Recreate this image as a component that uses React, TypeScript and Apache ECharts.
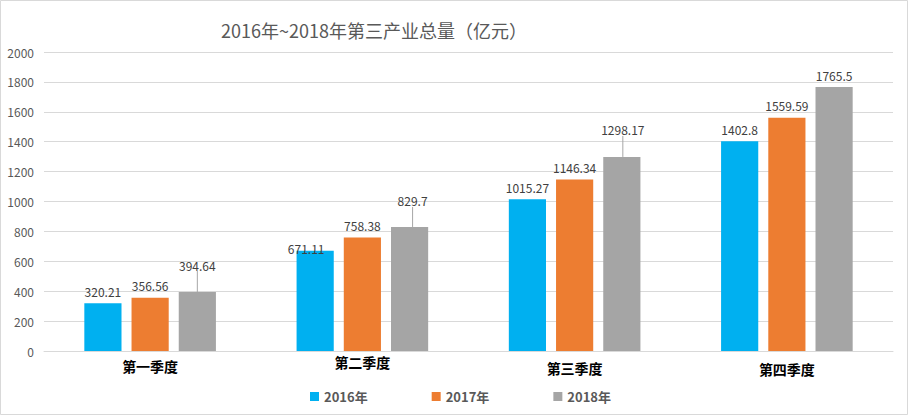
import React, { useEffect, useRef } from "react";
import * as echarts from "echarts";

const categories = ["第一季度", "第二季度", "第三季度", "第四季度"];
const seriesNames = ["2016年", "2017年", "2018年"];
const values2016 = [320.21, 671.11, 1015.27, 1402.8];
const values2017 = [356.56, 758.38, 1146.34, 1559.59];
const values2018 = [394.64, 829.7, 1298.17, 1765.5];
const colors = ["#00b0f0", "#ed7d31", "#a5a5a5"];
const catPad = [[4, 0, 0, 0], [0, 0, 0, 0], [6, 0, 0, 0], [7, 0, 0, 0]];

const FONT = "'Noto Sans CJK SC', 'Microsoft YaHei', sans-serif";

export default function App() {
  const ref = useRef<HTMLDivElement>(null);
  useEffect(() => {
    const chart = echarts.init(ref.current!, null, { renderer: "svg" });
    const allValues = [values2016, values2017, values2018];
    // label adjustments: "seriesIndex-dataIndex" => [dx, dy, showLine]
    const moves: Record<string, [number, number, boolean]> = {
      "2-0": [0, -15, true],
      "0-1": [-9, 10, false],
      "2-1": [3, -14, true],
      "2-2": [1, -15, true],
    };
    chart.setOption({
      animation: false,
      textStyle: { fontFamily: FONT },
      title: {
        text: "2016年~2018年第三产业总量（亿元）",
        left: 216,
        top: 16,
        textStyle: { fontSize: 18, fontWeight: "normal", color: "#595959", fontFamily: FONT },
      },
      graphic: [
        {
          type: "rect",
          shape: { x: 0.5, y: 0.5, width: 907, height: 414 },
          style: { fill: "none", stroke: "#d9d9d9", lineWidth: 1 },
          silent: true,
        },
      ],
      legend: {
        data: seriesNames,
        left: 305,
        top: 385,
        itemWidth: 9,
        itemHeight: 9,
        itemGap: 64,
        icon: "rect",
        textStyle: { fontSize: 13, fontWeight: "bold", color: "#595959", fontFamily: FONT },
      },
      grid: { left: 44, right: 16, top: 52, bottom: 65 },
      xAxis: {
        type: "category",
        data: categories.map((c, i) => ({
          value: c,
          textStyle: { padding: catPad[i] },
        })),
        axisLine: { lineStyle: { color: "#d9d9d9" } },
        axisTick: { show: false },
        axisLabel: { fontSize: 14, fontWeight: "bold", color: "#000", margin: 4 },
      },
      yAxis: {
        type: "value",
        min: 0,
        max: 2000,
        interval: 200,
        axisLine: { show: false },
        axisTick: { show: false },
        splitLine: { lineStyle: { color: "#d9d9d9" } },
        axisLabel: {
          fontSize: 12,
          color: "#595959",
          margin: 10,
          formatter: (v: number) => String(v),
        },
      },
      series: seriesNames.map((name, si) => ({
        type: "bar",
        name,
        data: allValues[si].map((v, di) => {
          const m = moves[`${si}-${di}`];
          return m && m[2]
            ? { value: v, labelLine: { show: true, lineStyle: { color: "#a6a6a6", width: 1 } } }
            : { value: v };
        }),
        barGap: "27%",
        barCategoryGap: "38%",
        itemStyle: { color: colors[si] },
        label: {
          show: true,
          position: "top",
          distance: 6,
          fontSize: 12,
          color: "#404040",
        },
        labelLine: { show: false },
        labelLayout: (params: any) => {
          const m = moves[`${si}-${params.dataIndex}`];
          if (!m) return {};
          return { dx: m[0], dy: m[1] };
        },
      })),
    });
    return () => chart.dispose();
  }, []);
  return (
    <div
      ref={ref}
      style={{ position: "absolute", left: 0, top: 0, width: 909, height: 416 }}
    />
  );
}
